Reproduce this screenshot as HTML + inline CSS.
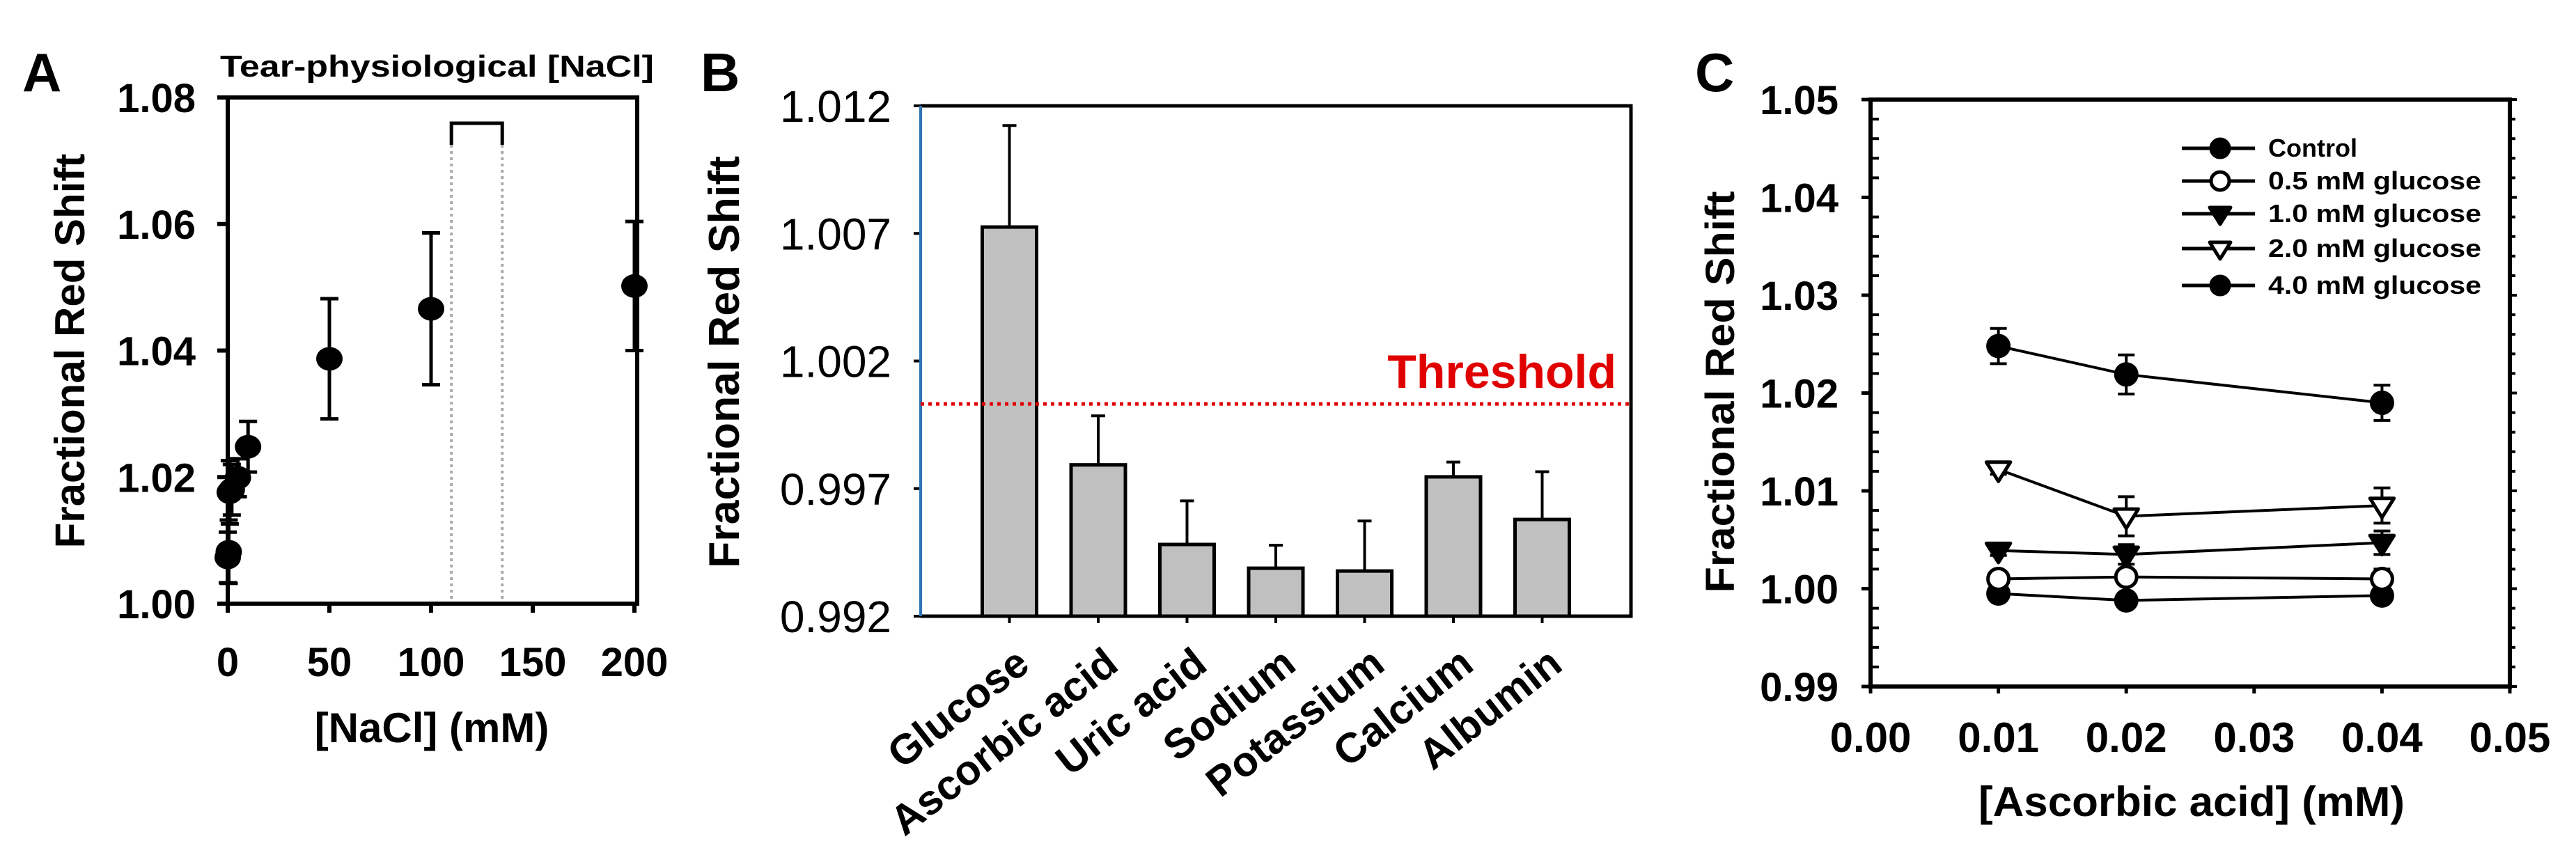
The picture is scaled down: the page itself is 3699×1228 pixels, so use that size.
<!DOCTYPE html>
<html><head><meta charset="utf-8"><style>
html,body{margin:0;padding:0;background:#fff;}
svg{display:block;font-family:"Liberation Sans",Arial,sans-serif;}
</style></head><body>
<svg id="fig" width="3699" height="1228" viewBox="0 0 3699 1228" xmlns="http://www.w3.org/2000/svg">
<g id="pa"></g>
<g id="pb"></g>
<g id="pc"></g>
</svg>
<script>
// ---- Panel A data ----
const aX = [0, 0.5, 1, 2, 5, 10, 50, 100, 200];
const aY = [1.0073, 1.0082, 1.0176, 1.0180, 1.0199, 1.0248, 1.0387, 1.0466, 1.0502];
const aErr = [0.004, 0.005, 0.005, 0.004, 0.003, 0.004, 0.0095, 0.012, 0.0102];
const aXTicks = [0, 50, 100, 150, 200];
const aYTicks = [1.00, 1.02, 1.04, 1.06, 1.08];
const aYTickLabels = ["1.00", "1.02", "1.04", "1.06", "1.08"];
const aRange = [110, 135];
// ---- Panel B data ----
const bCats = ["Glucose", "Ascorbic acid", "Uric acid", "Sodium", "Potassium", "Calcium", "Albumin"];
const bVals = [1.00725, 0.99793, 0.99481, 0.99388, 0.99377, 0.99746, 0.99579];
const bErrTop = [1.01123, 0.99985, 0.99652, 0.99478, 0.99573, 0.99804, 0.99766];
const bYTicks = [0.992, 0.997, 1.002, 1.007, 1.012];
const bYTickLabels = ["0.992", "0.997", "1.002", "1.007", "1.012"];
const bThreshold = 1.00032;
// ---- Panel C data ----
const cX = [0.01, 0.02, 0.04];
const cSeriesNames = ["Control", "0.5 mM glucose", "1.0 mM glucose", "2.0 mM glucose", "4.0 mM glucose"];
const cControl = [0.9995, 0.9988, 0.9993];
const cG05 = [1.0010, 1.0012, 1.0010];
const cG10 = [1.0039, 1.0035, 1.0047];
const cG20 = [1.0122, 1.0074, 1.0085];
const cG40 = [1.0248, 1.0219, 1.0190];
const cErrControl = [0.0005, 0.0005, 0.0005];
const cErrG05 = [0.0005, 0.0005, 0.001];
const cErrG10 = [0.0005, 0.001, 0.0012];
const cErrG20 = [0.0005, 0.002, 0.0018];
const cErrG40 = [0.0018, 0.002, 0.0018];
const cXTicks = [0, 0.01, 0.02, 0.03, 0.04, 0.05];
const cXTickLabels = ["0.00", "0.01", "0.02", "0.03", "0.04", "0.05"];
const cYTicks = [0.99, 1.00, 1.01, 1.02, 1.03, 1.04, 1.05];
const cYTickLabels = ["0.99", "1.00", "1.01", "1.02", "1.03", "1.04", "1.05"];

const NS = "http://www.w3.org/2000/svg";
function mk(parent, tag, attrs, text) {
  const e = document.createElementNS(NS, tag);
  for (const k in attrs) e.setAttribute(k, attrs[k]);
  if (text !== undefined) e.textContent = text;
  parent.appendChild(e);
  return e;
}
function lin(d0, d1, r0, r1) { return v => r0 + (v - d0) / (d1 - d0) * (r1 - r0); }

// ================= PANEL A =================
(function () {
  const g = document.getElementById('pa');
  const L = 327, R = 915, T = 140, B = 867;
  const x = lin(0, 200, 327, 911), y = lin(1.00, 1.08, B, T);
  let t;
  t = mk(g, 'text', {x: 32, y: 131, 'font-size': 78, 'font-weight': 'bold'}, 'A');
   
  t = mk(g, 'text', {x: 316, y: 110, 'font-size': 44, 'font-weight': 'bold', textLength: 623, lengthAdjust: 'spacingAndGlyphs'}, 'Tear-physiological [NaCl]');
   
  // dotted range lines + bracket
  aRange.forEach(v => {
    const l = mk(g, 'line', {x1: x(v), x2: x(v), y1: 208, y2: B, stroke: '#aaa', 'stroke-width': 4, 'stroke-dasharray': '4 5'});
     
  });
  const br = mk(g, 'path', {d: `M${x(aRange[0])},208 V177 H${x(aRange[1])} V208`, fill: 'none', stroke: '#000', 'stroke-width': 5});
   
  const box = mk(g, 'rect', {x: L, y: T, width: R - L, height: B - T, fill: 'none', stroke: '#000', 'stroke-width': 6});
   
  aYTicks.forEach((v, i) => {
    mk(g, 'line', {x1: L - 15, x2: L, y1: y(v), y2: y(v), stroke: '#000', 'stroke-width': 6});
    const tl = mk(g, 'text', {x: 281, y: y(v) + 21, 'font-size': 58, 'font-weight': 'bold', 'text-anchor': 'end'}, aYTickLabels[i]);
     
  });
  aXTicks.forEach(v => {
    mk(g, 'line', {x1: x(v), x2: x(v), y1: B, y2: B + 13, stroke: '#000', 'stroke-width': 6});
    const tl = mk(g, 'text', {x: x(v), y: 971, 'font-size': 58, 'font-weight': 'bold', 'text-anchor': 'middle'}, String(v));
     
  });
  t = mk(g, 'text', {x: 620, y: 1066, 'font-size': 60, 'font-weight': 'bold', 'text-anchor': 'middle', 'xml:space': 'preserve'}, '[NaCl]  (mM)');
   
  t = mk(g, 'text', {x: 0, y: 0, 'font-size': 60, 'font-weight': 'bold', 'text-anchor': 'middle', transform: 'translate(121,504) rotate(-90)'}, 'Fractional Red Shift');
   
  aX.forEach((v, i) => {
    const cx = x(v), cy = y(aY[i]), e1 = y(aY[i] + aErr[i]), e2 = y(aY[i] - aErr[i]);
    const eb = mk(g, 'path', {d: `M${cx},${e1} V${e2} M${cx - 13},${e1} H${cx + 13} M${cx - 13},${e2} H${cx + 13}`, stroke: '#000', 'stroke-width': 5, fill: 'none'});
     
    const c = mk(g, 'ellipse', {cx: cx, cy: cy, rx: 19, ry: 17, fill: '#000'});
     
  });
})();

// ================= PANEL B =================
(function () {
  const g = document.getElementById('pb');
  const L = 1322, R = 2342, T = 152, B = 885;
  const y = lin(0.992, 1.012, B, T);
  const step = (R - L) / (bCats.length + 1);
  const x = i => L + (i + 1) * step;
  let t;
  t = mk(g, 'text', {x: 1006, y: 131, 'font-size': 78, 'font-weight': 'bold'}, 'B');
   
  const fr = mk(g, 'path', {d: `M${L},${T} H${R} V${B} H${L}`, fill: 'none', stroke: '#000', 'stroke-width': 5});
   
  bYTicks.forEach((v, i) => {
    mk(g, 'line', {x1: L - 10, x2: L, y1: y(v), y2: y(v), stroke: '#000', 'stroke-width': 4});
    const tl = mk(g, 'text', {x: 1280, y: y(v) + 23, 'font-size': 64, 'text-anchor': 'end'}, bYTickLabels[i]);
     
  });
  t = mk(g, 'text', {x: 0, y: 0, 'font-size': 62, 'text-anchor': 'middle', 'font-weight': 'bold', transform: 'translate(1061,520) rotate(-90)', textLength: 592, lengthAdjust: 'spacingAndGlyphs'}, 'Fractional Red Shift');
   
  bCats.forEach((c, i) => {
    const cx = x(i), top = y(bVals[i]), et = y(bErrTop[i]);
    const eb = mk(g, 'path', {d: `M${cx},${top} V${et} M${cx - 10},${et} H${cx + 10}`, stroke: '#000', 'stroke-width': 4, fill: 'none'});
     
    const bar = mk(g, 'rect', {x: cx - 39, y: top, width: 78, height: B - top, fill: '#c0c0c0', stroke: '#000', 'stroke-width': 5});
     
    mk(g, 'line', {x1: cx, x2: cx, y1: B, y2: B + 10, stroke: '#000', 'stroke-width': 4});
    const tl = mk(g, 'text', {x: 0, y: 0, 'font-size': 60, 'font-weight': 'bold', 'text-anchor': 'end', transform: `translate(${cx + 32},${960}) rotate(-38)`}, c);
     
  });
  const ax = mk(g, 'line', {x1: L, x2: L, y1: T, y2: B, stroke: '#2e75b6', 'stroke-width': 4});
   
  const th = mk(g, 'line', {x1: L, x2: R, y1: y(bThreshold), y2: y(bThreshold), stroke: '#e00000', 'stroke-width': 5, 'stroke-dasharray': '5 6'});
   
  t = mk(g, 'text', {x: 2321, y: 557, 'font-size': 68, 'font-weight': 'bold', fill: '#e00000', 'text-anchor': 'end'}, 'Threshold');
   
})();

// ================= PANEL C =================
(function () {
  const g = document.getElementById('pc');
  const L = 2686, R = 3604, T = 143, B = 986;
  const x = lin(0, 0.05, L, R), y = lin(0.99, 1.05, B, T);
  let t;
  t = mk(g, 'text', {x: 2434, y: 131, 'font-size': 78, 'font-weight': 'bold'}, 'C');
   
  const fr = mk(g, 'rect', {x: L, y: T, width: R - L, height: B - T, fill: 'none', stroke: '#000', 'stroke-width': 6});
   
  for (let k = 0; k <= 30; k++) {
    const v = 0.99 + k * 0.002, yy = y(v);
    if (k % 5 === 0) {
      mk(g, 'line', {x1: L - 13, x2: L, y1: yy, y2: yy, stroke: '#000', 'stroke-width': 5});
      mk(g, 'line', {x1: R, x2: R + 10, y1: yy, y2: yy, stroke: '#000', 'stroke-width': 4});
    } else {
      mk(g, 'line', {x1: L, x2: L + 12, y1: yy, y2: yy, stroke: '#000', 'stroke-width': 4});
      mk(g, 'line', {x1: R, x2: R + 8, y1: yy, y2: yy, stroke: '#000', 'stroke-width': 4});
    }
  }
  cYTicks.forEach((v, i) => {
    const tl = mk(g, 'text', {x: 2640, y: y(v) + 21, 'font-size': 58, 'font-weight': 'bold', 'text-anchor': 'end'}, cYTickLabels[i]);
     
  });
  cXTicks.forEach((v, i) => {
    mk(g, 'line', {x1: x(v), x2: x(v), y1: B, y2: B + 10, stroke: '#000', 'stroke-width': 5});
    const tl = mk(g, 'text', {x: x(v), y: 1080, 'font-size': 60, 'font-weight': 'bold', 'text-anchor': 'middle'}, cXTickLabels[i]);
     
  });
  t = mk(g, 'text', {x: 2841, y: 1172, 'font-size': 60, 'font-weight': 'bold', textLength: 612, lengthAdjust: 'spacingAndGlyphs'}, '[Ascorbic acid] (mM)');
   
  t = mk(g, 'text', {x: 0, y: 0, 'font-size': 58, 'font-weight': 'bold', 'text-anchor': 'middle', transform: 'translate(2490,563) rotate(-90)', textLength: 577, lengthAdjust: 'spacingAndGlyphs'}, 'Fractional Red Shift');
   

  const series = [cControl, cG05, cG10, cG20, cG40];
  const errs = [cErrControl, cErrG05, cErrG10, cErrG20, cErrG40];
  const kinds = ['fc', 'oc', 'ft', 'ot', 'fc'];
  function marker(cx, cy, kind, r) {
    let m;
    if (kind === 'fc' || kind === 'oc') {
      m = mk(g, 'circle', {cx: cx, cy: cy, r: r, fill: kind === 'fc' ? '#000' : '#fff', stroke: '#000', 'stroke-width': 5});
    } else {
      const h = r * 1.15;
      m = mk(g, 'path', {d: `M${cx - h},${cy - h * 0.6} H${cx + h} L${cx},${cy + h} Z`, fill: kind === 'ft' ? '#000' : '#fff', stroke: '#000', 'stroke-width': 5, 'stroke-linejoin': 'round'});
    }
    return m;
  }
  series.forEach((s, si) => {
    const pts = cX.map((v, i) => `${x(v)},${y(s[i])}`).join(' ');
    const pl = mk(g, 'polyline', {points: pts, fill: 'none', stroke: '#000', 'stroke-width': 4});
     
    cX.forEach((v, i) => {
      const cx = x(v), e1 = y(s[i] + errs[si][i]), e2 = y(s[i] - errs[si][i]);
      const eb = mk(g, 'path', {d: `M${cx},${e1} V${e2} M${cx - 12},${e1} H${cx + 12} M${cx - 12},${e2} H${cx + 12}`, stroke: '#000', 'stroke-width': 4, fill: 'none'});
       
    });
    cX.forEach((v, i) => {
      const m = marker(x(v), y(s[i]), kinds[si], 15);
       
    });
  });
  // legend
  const rows = [213, 260, 307, 357, 410];
  cSeriesNames.forEach((n, i) => {
    const ly = rows[i];
    const ll = mk(g, 'line', {x1: 3133, x2: 3238, y1: ly, y2: ly, stroke: '#000', 'stroke-width': 5});
     
    const m = marker(3188, ly, kinds[i], 13);
     
    const attrs = {x: 3257, y: ly + 12, 'font-size': 36, 'font-weight': 'bold'};
    if (i > 0) { attrs.textLength = 306; attrs.lengthAdjust = 'spacingAndGlyphs'; }
    const tl = mk(g, 'text', attrs, n);
     
  });
})();
</script>
</body></html>
